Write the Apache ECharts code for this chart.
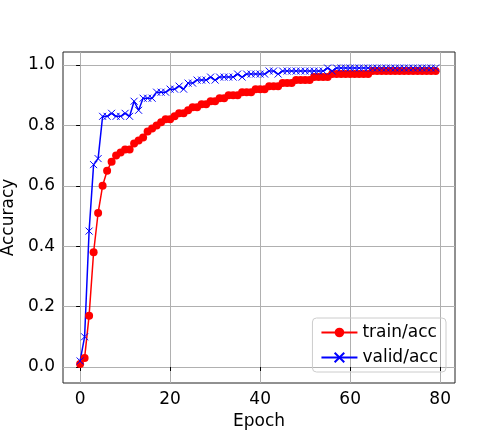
<!DOCTYPE html>
<html><head><meta charset="utf-8">
<script src="https://cdn.jsdelivr.net/npm/echarts@6/dist/echarts.min.js"></script>
<style>html,body{margin:0;background:#fff}#c{width:504px;height:432px}</style>
</head><body><div id="c"></div>
<script>
const trainAcc = [0.01,0.03,0.17,0.38,0.51,0.60,0.65,0.68,0.70,0.71,0.72,0.72,0.74,0.75,0.76,0.78,0.79,0.80,0.81,0.82,
  0.82,0.83,0.84,0.84,0.85,0.86,0.86,0.87,0.87,0.88,0.88,0.89,0.89,0.90,0.90,0.90,0.91,0.91,0.91,0.92,
  0.92,0.92,0.93,0.93,0.93,0.94,0.94,0.94,0.95,0.95,0.95,0.95,0.96,0.96,0.96,0.96,0.97,0.97,0.97,0.97,
  0.97,0.97,0.97,0.97,0.97,0.98,0.98,0.98,0.98,0.98,0.98,0.98,0.98,0.98,0.98,0.98,0.98,0.98,0.98,0.98];
const validAcc = [0.02,0.10,0.45,0.67,0.69,0.83,0.83,0.84,0.83,0.83,0.84,0.83,0.88,0.85,0.89,0.89,0.89,0.91,0.91,0.91,
  0.92,0.92,0.93,0.92,0.94,0.94,0.95,0.95,0.95,0.96,0.95,0.96,0.96,0.96,0.96,0.97,0.96,0.97,0.97,0.97,
  0.97,0.97,0.98,0.98,0.97,0.98,0.98,0.98,0.98,0.98,0.98,0.98,0.98,0.98,0.98,0.99,0.98,0.99,0.99,0.99,
  0.99,0.99,0.99,0.99,0.99,0.99,0.99,0.99,0.99,0.99,0.99,0.99,0.99,0.99,0.99,0.99,0.99,0.99,0.99,0.99];
const xTicks = [0,20,40,60,80];
const yTicks = [0,0.2,0.4,0.6,0.8,1.0];

const pairs = a => a.map((v,i) => [i,v]);
const font = 'DejaVu Sans';
const chart = echarts.init(document.getElementById('c'));
chart.setOption({
  animation: false,
  textStyle: {fontFamily: font},
  grid: {left: 63, right: 49, top: 52, bottom: 49, containLabel: false, outerBoundsMode: 'none',
         show: true, borderColor: '#222', borderWidth: 1},
  legend: {
    orient: 'vertical', right: 58, bottom: 60, itemWidth: 36, itemHeight: 12, itemGap: 8,
    borderColor: '#ccc', borderWidth: 1, borderRadius: 4, padding: [6, 8],
    textStyle: {fontSize: 17, color: '#000', fontFamily: font},
    data: ['train/acc', 'valid/acc']
  },
  xAxis: {
    type: 'value', min: -3.8, max: 83.3, name: 'Epoch', nameLocation: 'middle', nameGap: 30,
    nameTextStyle: {fontSize: 17, color: '#000'},
    axisLine: {show: false},
    axisTick: {show: true, customValues: xTicks, length: 4, lineStyle: {color: '#000'}},
    axisLabel: {customValues: xTicks, fontSize: 17, color: '#000'},
    splitLine: {show: true, lineStyle: {color: '#b0b0b0'}}
  },
  yAxis: {
    type: 'value', min: -0.053, max: 1.043, name: 'Accuracy', nameLocation: 'middle', nameGap: 46,
    nameTextStyle: {fontSize: 17, color: '#000'},
    axisLine: {show: false},
    axisTick: {show: true, customValues: yTicks, length: 4, lineStyle: {color: '#000'}},
    axisLabel: {customValues: yTicks, fontSize: 17, color: '#000', formatter: v => v.toFixed(1)},
    splitLine: {show: true, lineStyle: {color: '#b0b0b0'}}
  },
  series: [
    {name: 'train/acc', type: 'line', data: pairs(trainAcc), symbol: 'circle', symbolSize: 8,
     itemStyle: {color: '#ff0000'}, lineStyle: {width: 1.5, color: '#ff0000'}},
    {name: 'valid/acc', type: 'line', data: pairs(validAcc),
     symbol: 'path://M0,0L10,10M10,0L0,10', symbolSize: 7,
     itemStyle: {color: '#0000ff', borderColor: '#0000ff', borderWidth: 1},
     lineStyle: {width: 1.5, color: '#0000ff'}}
  ]
});
</script></body></html>
